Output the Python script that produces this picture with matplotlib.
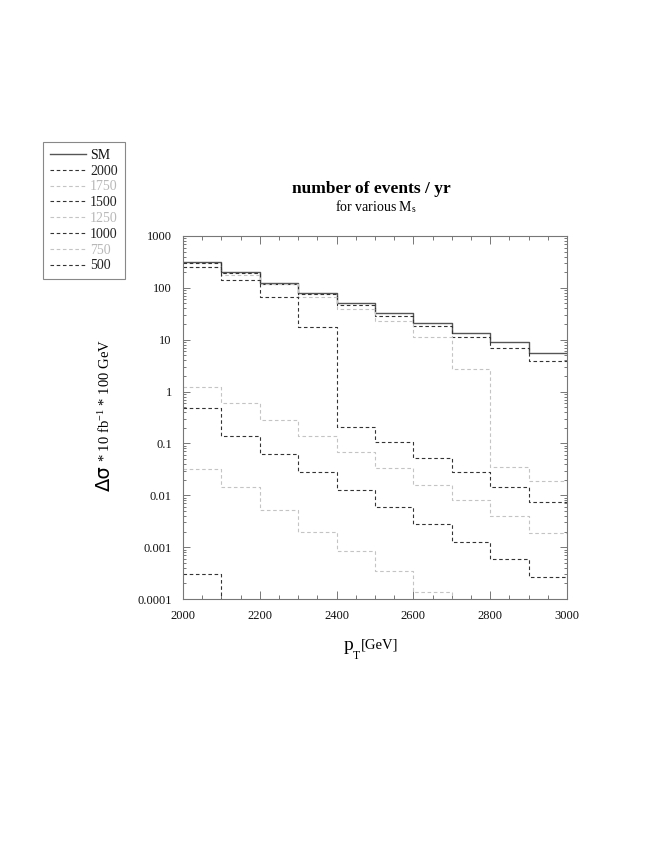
import numpy as np
import matplotlib
matplotlib.use("Agg")
import matplotlib.pyplot as plt
from matplotlib.ticker import LogLocator, FixedLocator, FixedFormatter, MultipleLocator, NullFormatter

plt.rcParams["font.family"] = ["Liberation Serif", "DejaVu Serif"]
plt.rcParams["mathtext.fontset"] = "stix"

# bin edges in p_T [GeV]
edges = [2000, 2100, 2200, 2300, 2400, 2500, 2600, 2700, 2800, 2900, 3000]

# events / yr per 100 GeV bin
sm = [320, 202, 125, 79, 50, 32.6, 20.8, 13.6, 9.1, 5.5]
ms2000 = [305, 195, 120, 76, 47, 29.0, 18.7, 11.4, 6.8, 3.85]
ms1750 = [256, 177, 119, 66, 39.7, 22.5, 11.3, 2.75, 0.035, 0.0187]
ms1500 = [256, 140, 68, 17.7, 0.205, 0.106, 0.053, 0.0278, 0.0144, 0.00755]
ms1250 = [1.25, 0.59, 0.286, 0.138, 0.068, 0.0336, 0.0161, 0.0081, 0.0039, 0.0019]
ms1000 = [0.48, 0.14, 0.063, 0.0282, 0.0128, 0.00605, 0.00274, 0.00126, 0.000587, 0.000265]
ms750 = [0.0327, 0.0142, 0.0051, 0.002, 0.00084, 0.00034, 0.000139, 5e-5, 2e-5, 1e-5]
ms500 = [0.0003, 2e-5, 8e-6, 3e-6, 1e-6, 5e-7, 2e-7, 1e-7, 5e-8, 2e-8]

labels = ["SM", "2000", "1750", "1500", "1250", "1000", "750", "500"]
series = [sm, ms2000, ms1750, ms1500, ms1250, ms1000, ms750, ms500]

dark = "#333333"
light = "#c4c4c4"
colors = ["#555555", dark, light, dark, light, dark, light, dark]
text_colors = ["#111111", "#222222", "#b8b8b8", "#222222", "#b8b8b8", "#222222", "#b8b8b8", "#222222"]

W, H = 654, 846
fig = plt.figure(figsize=(W / 100, H / 100), dpi=100)
ax = fig.add_axes([183 / W, 1 - 599 / H, 384 / W, 363 / H])

handles = []
for lab, vals, col in zip(labels, series, colors):
    y = np.append(vals, vals[-1])
    if lab == "SM":
        (h,) = ax.step(edges, y, where="post", color=col, lw=1.0)
    else:
        (h,) = ax.step(edges, y, where="post", color=col, lw=0.8, linestyle=(0, (3.2, 2.4)))
    handles.append(h)

ax.set_yscale("log")
ax.set_xlim(2000, 3000)
ax.set_ylim(1e-4, 1e3)

ax.xaxis.set_major_locator(MultipleLocator(200))
ax.xaxis.set_minor_locator(MultipleLocator(50))
ytick_vals = [1e-4, 1e-3, 1e-2, 1e-1, 1, 10, 100, 1000]
ytick_labels = ["0.0001", "0.001", "0.01", "0.1", "1", "10", "100", "1000"]
ax.yaxis.set_major_locator(FixedLocator(ytick_vals))
ax.yaxis.set_major_formatter(FixedFormatter(ytick_labels))
ax.yaxis.set_minor_locator(LogLocator(base=10, subs=np.arange(2, 10), numticks=20))
ax.yaxis.set_minor_formatter(NullFormatter())

ax.tick_params(which="both", direction="in", top=True, right=True, colors="#777777",
               labelcolor="#111111", labelsize=9, width=0.7, pad=8)
ax.tick_params(axis="x", which="major", length=6)
ax.tick_params(axis="x", which="minor", length=3)
ax.tick_params(axis="y", which="major", length=5)
ax.tick_params(axis="y", which="minor", length=2.5)
for sp in ax.spines.values():
    sp.set_color("#777777")
    sp.set_linewidth(0.8)

# title
fig.text(371 / W, 1 - 193 / H, "number of events / yr", ha="center", va="baseline",
         fontsize=12.5, fontweight="bold")
fig.text(376 / W, 1 - 211 / H, r"for various M$_{\mathregular{s}}$", ha="center", va="baseline",
         fontsize=10)

# x label
fig.text(344 / W, 1 - 650 / H, "p", ha="left", va="baseline", fontsize=14)
fig.text(353 / W, 1 - 659 / H, "T", ha="left", va="baseline", fontsize=8.5)
fig.text(361 / W, 1 - 648 / H, "[GeV]", ha="left", va="baseline", fontsize=10.5)

# y label
fig.text(110 / W, 1 - 491 / H, "\u0394\u03c3", rotation=90, rotation_mode="anchor",
         ha="left", va="baseline", fontsize=14, family=["DejaVu Sans"])
fig.text(110 / W, 1 - 462 / H, r"* 10 fb$^{\mathregular{-1}}$ * 100 GeV", rotation=90,
         rotation_mode="anchor", ha="left", va="baseline", fontsize=10.5)

leg = fig.legend(handles, labels, loc="upper left", bbox_to_anchor=(43 / W, 1 - 142 / H),
                 borderaxespad=0, fancybox=False, edgecolor="#888888", framealpha=1,
                 fontsize=10, handlelength=2.6, handletextpad=0.3, labelspacing=0.2,
                 borderpad=0.5)
leg.get_frame().set_linewidth(0.8)
for t, c in zip(leg.get_texts(), text_colors):
    t.set_color(c)

fig.savefig("out.png", dpi=100)
